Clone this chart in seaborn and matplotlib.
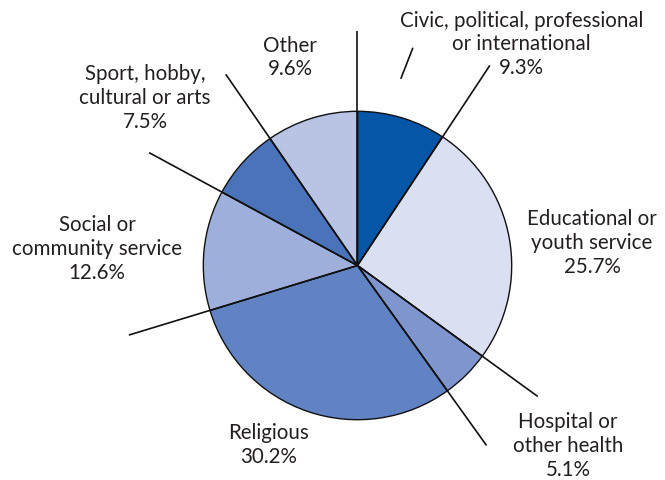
import numpy as np
import matplotlib
matplotlib.use("Agg")
import matplotlib.pyplot as plt
import seaborn as sns

# Share of volunteer organisations by type (percent)
categories = [
    "Civic, political, professional\nor international",
    "Educational or\nyouth service",
    "Hospital or\nother health",
    "Religious",
    "Social or\ncommunity service",
    "Sport, hobby,\ncultural or arts",
    "Other",
]
shares = [9.3, 25.7, 5.1, 30.2, 12.6, 7.5, 9.6]
colors = ["#0556a6", "#dadff1", "#7f95cd", "#6183c3", "#9fafdc", "#4b73ba", "#b9c4e4"]

# how far each wedge boundary line runs out (in pie radii), starting at 12 o'clock
boundary_reach = [1.52, 1.556, 1.445, 1.436, 1.55, 1.537, 1.506]
# label block centres in figure pixels (x, y from top)
label_pos = [(521.5, 44.5), (592, 243), (568, 446), (269, 445), (97, 249), (145, 98), (290, 57.5)]

sns.set_theme(style="white")
plt.rcParams["font.family"] = ["Lato", "DejaVu Sans"]

W, H = 665, 481
cx, cy, R = 357.5, 266.5, 154.2

fig = plt.figure(figsize=(W / 100, H / 100), dpi=100)
ax = fig.add_axes([0, 0, 1, 1])

ax.pie(shares, colors=colors, startangle=90, counterclock=False, radius=1,
       wedgeprops=dict(edgecolor="#111111", linewidth=1.0))

ax.set_aspect("auto")
ax.axis("off")

# wedge boundaries extended outward as leader lines
cum = np.concatenate([[0], np.cumsum(shares)[:-1]])
for c, reach in zip(cum, boundary_reach):
    ang = np.deg2rad(90 - 360 * c / 100)
    ax.plot([0, reach * np.cos(ang)], [0, reach * np.sin(ang)],
            color="#111111", lw=1.2, solid_capstyle="butt")

# convert figure pixels (from top-left) to pie units
def px(x, y):
    return (x - cx) / R, (cy - y) / R

# short pointer under the civic label
p0, p1 = px(412.7, 49.3), px(401.0, 79.3)
ax.plot([p0[0], p1[0]], [p0[1], p1[1]], color="#111111", lw=1.2)

for name, val, (x, y) in zip(categories, shares, label_pos):
    dx, dy = px(x, y)
    ax.text(dx, dy, f"{name}\n{val:.1f}%", ha="center", va="center",
            multialignment="center", fontsize=14.8, color="#231f20", linespacing=1.22)

ax.set_xlim(-cx / R, (W - cx) / R)
ax.set_ylim((cy - H) / R, cy / R)

fig.savefig("out.png", dpi=100)
